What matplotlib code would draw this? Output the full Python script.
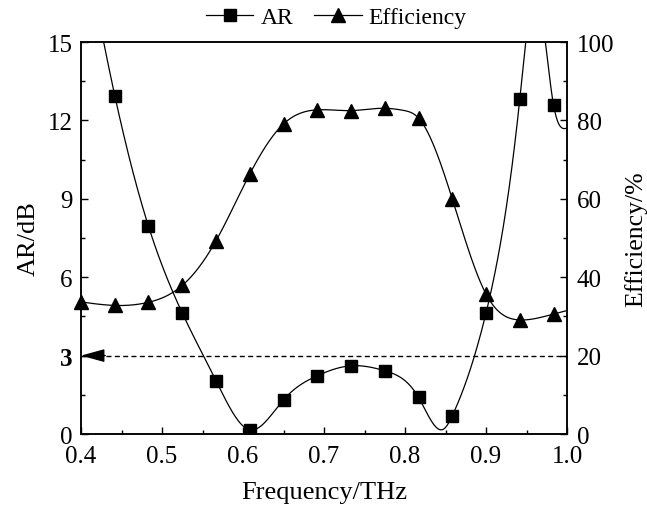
import numpy as np
import matplotlib
matplotlib.use("Agg")
import matplotlib.pyplot as plt
from matplotlib.lines import Line2D
from matplotlib.ticker import MultipleLocator

plt.rcParams['font.family'] = ['Liberation Serif', 'DejaVu Serif']
plt.rcParams['mathtext.fontset'] = 'stix'

# ---- data ----
# sampled (marker) frequencies, THz
freq = [0.4, 0.4417, 0.4833, 0.525, 0.5667, 0.6083, 0.65, 0.6917,
        0.7333, 0.775, 0.8167, 0.8583, 0.9, 0.9417, 0.9833]
ar_db = [19.5, 12.95, 7.95, 4.63, 2.04, 0.16, 1.31, 2.23,
         2.61, 2.42, 1.40, 0.70, 4.63, 12.82, 12.6]
efficiency = [33.7, 32.8, 33.6, 37.9, 49.3, 66.3, 79.1, 82.7,
              82.5, 83.1, 80.6, 60.0, 35.7, 29.1, 30.6]
# extra curve points (no markers)
ar_extra_freq = [0.849, 0.961, 1.0]
ar_extra_val = [0.22, 17.0, 11.7]
eff_extra_freq = [0.797, 1.0]
eff_extra_val = [82.6, 31.5]

xticks = [0.4, 0.5, 0.6, 0.7, 0.8, 0.9, 1.0]
ar_ticks = [0, 3, 6, 9, 12, 15]
eff_ticks = [0, 20, 40, 60, 80, 100]
ar_ref = 3


def natural_spline(x, y, xs):
    x = np.asarray(x, float); y = np.asarray(y, float)
    n = len(x); h = np.diff(x)
    A = np.zeros((n, n)); b = np.zeros(n)
    A[0, 0] = 1; A[-1, -1] = 1
    for i in range(1, n - 1):
        A[i, i - 1] = h[i - 1]; A[i, i] = 2 * (h[i - 1] + h[i]); A[i, i + 1] = h[i]
        b[i] = 6 * ((y[i + 1] - y[i]) / h[i] - (y[i] - y[i - 1]) / h[i - 1])
    M = np.linalg.solve(A, b)
    idx = np.clip(np.searchsorted(x, xs) - 1, 0, n - 2)
    x0 = x[idx]; x1 = x[idx + 1]; hh = x1 - x0
    t0 = xs - x0; t1 = x1 - xs
    return (M[idx] * t1 ** 3 / (6 * hh) + M[idx + 1] * t0 ** 3 / (6 * hh)
            + (y[idx] / hh - M[idx] * hh / 6) * t1
            + (y[idx + 1] / hh - M[idx + 1] * hh / 6) * t0)


def merged(fx, fy, ex, ey):
    pts = sorted(list(zip(fx, fy)) + list(zip(ex, ey)))
    return [p[0] for p in pts], [p[1] for p in pts]


xs = np.linspace(0.4, 1.0, 1200)
ax_x, ax_y = merged(freq, ar_db, ar_extra_freq, ar_extra_val)
ef_x, ef_y = merged(freq, efficiency, eff_extra_freq, eff_extra_val)
ar_curve = natural_spline(ax_x, ax_y, xs)
eff_curve = natural_spline(ef_x, ef_y, xs)

fig = plt.figure(figsize=(6.47, 5.06), dpi=100)
ax = fig.add_axes([0.1252, 0.1403, 0.7512, 0.7747])
ax2 = ax.twinx()

ax.plot(xs, ar_curve, color='black', lw=0.9)
ax.plot(freq, ar_db, ls='none', marker='s', ms=8, color='black')
ax2.plot(xs, eff_curve, color='black', lw=0.9)
ax2.plot(freq, efficiency, ls='none', marker='^', ms=10, color='black', clip_on=False)

# reference AR = 3 dB dashed line with arrow to the axis
ax.plot([0.4, 1.0], [ar_ref, ar_ref], color='black', lw=1, ls=(0, (3.6, 2.4)))
ax.annotate('', xy=(0.4, ar_ref), xytext=(0.43, ar_ref),
            arrowprops=dict(arrowstyle='-|>,head_length=1.45,head_width=0.4',
                            mutation_scale=10, color='black', lw=1,
                            shrinkA=0, shrinkB=0))

ax.set_xlim(0.4, 1.0)
ax.set_ylim(0, 15)
ax2.set_ylim(0, 100)
ax.set_xticks(xticks)
ax.set_xticklabels([f"{t:.1f}" for t in xticks])
ax.set_yticks(ar_ticks)
ax.set_yticklabels([str(t) for t in ar_ticks])
for lab in ax.get_yticklabels():
    if lab.get_text() == str(ar_ref):
        lab.set_fontweight('bold')
ax2.set_yticks(eff_ticks)
ax.xaxis.set_minor_locator(MultipleLocator(0.05))
ax.yaxis.set_minor_locator(MultipleLocator(1.5))
ax2.yaxis.set_minor_locator(MultipleLocator(10))

for a in (ax, ax2):
    a.tick_params(which='both', direction='in', labelsize=18, width=1, colors='black')
    a.tick_params(which='major', length=5)
    a.tick_params(which='minor', length=3)
    for s in a.spines.values():
        s.set_linewidth(1.1)
ax.tick_params(axis='x', pad=8)
ax.tick_params(axis='y', pad=6, right=False)
ax2.tick_params(axis='y', pad=7)

ax.set_xlabel('Frequency/THz', fontsize=19, labelpad=10)
ax.set_ylabel('AR/dB', fontsize=19, labelpad=6)
ax2.set_ylabel('Efficiency/%', fontsize=18.5, labelpad=7)

handles = [Line2D([], [], color='black', lw=0.9, marker='s', ms=8),
           Line2D([], [], color='black', lw=0.9, marker='^', ms=10)]
fig.legend(handles, ['AR', 'Efficiency'], loc='center', bbox_to_anchor=(0.52, 0.963),
           ncol=2, frameon=False, fontsize=17, handlelength=2.0,
           handletextpad=0.3, columnspacing=0.9, borderpad=0)

fig.savefig('out.png', dpi=100)
